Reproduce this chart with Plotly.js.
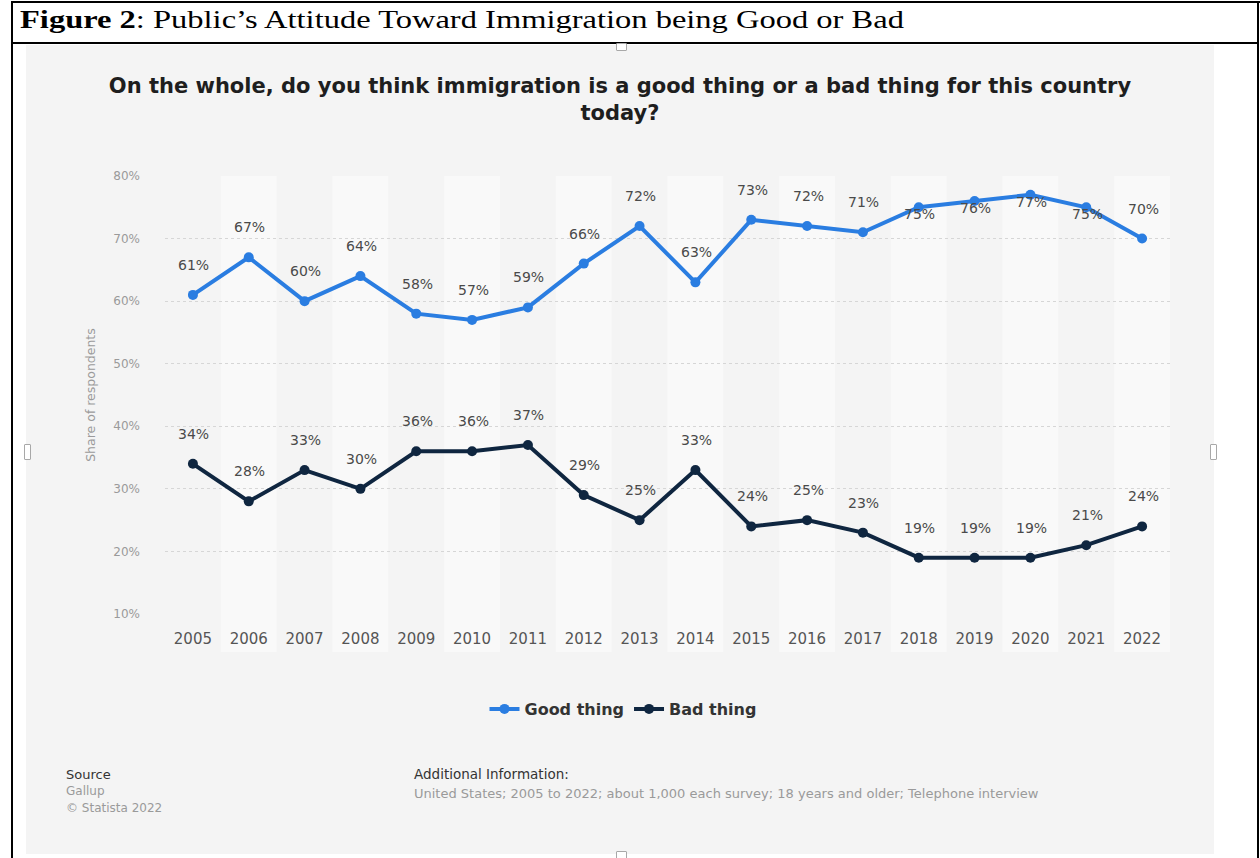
<!DOCTYPE html>
<html>
<head>
<meta charset="utf-8">
<script src="https://cdn.plot.ly/plotly-3.0.1.min.js"></script>
<style>
  html, body { margin:0; padding:0; background:#ffffff; width:1260px; height:858px; overflow:hidden; }
  .ln { position:absolute; background:#000; }
  #hdr { position:absolute; left:20px; top:5px; font-family:"Liberation Serif","Times New Roman",serif; font-size:26px; line-height:30px; color:#000; white-space:nowrap; transform:scaleX(1.25); transform-origin:0 0; }
  #box { position:absolute; left:26px; top:45px; width:1188px; height:809px; background:#f4f4f4; }
  #chart { position:absolute; left:26px; top:45px; width:1188px; height:809px; }
  .hd { position:absolute; background:#fff; border:1px solid #a8a8a8; border-radius:1px; }
</style>
</head>
<body>
<div class="ln" style="left:11px; top:1px; width:1249px; height:2px;"></div>
<div class="ln" style="left:11px; top:1px; width:2px; height:857px;"></div>
<div class="ln" style="left:1257px; top:1px; width:2px; height:857px;"></div>
<div class="ln" style="left:11px; top:42px; width:1248px; height:2px;"></div>
<div id="hdr"><b>Figure 2</b>: Public’s Attitude Toward Immigration being Good or Bad</div>
<div id="box"></div>
<div id="chart"></div>
<div class="hd" style="left:616px; top:43px; width:9px; height:6px;"></div>
<div class="hd" style="left:616px; top:851px; width:9px; height:7px;"></div>
<div class="hd" style="left:24px; top:444px; width:5px; height:14px;"></div>
<div class="hd" style="left:1210px; top:444px; width:5px; height:14px;"></div>
<script>
// ---- data ----
const years = ['2005','2006','2007','2008','2009','2010','2011','2012','2013','2014','2015','2016','2017','2018','2019','2020','2021','2022'];
const goodThing = [61,67,60,64,58,57,59,66,72,63,73,72,71,75,76,77,75,70];
const badThing  = [34,28,33,30,36,36,37,29,25,33,24,25,23,19,19,19,21,24];
const yTickValues = [10,20,30,40,50,60,70,80];
const yTickLabels = ['10%','20%','30%','40%','50%','60%','70%','80%'];
const seriesNames = ['Good thing','Bad thing'];
const chartTitle = 'On the whole, do you think immigration is a good thing or a bad thing for this country<br>today?';
const yAxisTitle = 'Share of respondents';
const sourceLines = ['Source', 'Gallup', '© Statista 2022'];
const infoLines = ['Additional Information:', 'United States; 2005 to 2022; about 1,000 each survey; 18 years and older; Telephone interview'];

// ---- style ----
const blue = '#2a7de1';
const navy = '#0f2640';
const sans = 'DejaVu Sans, Liberation Sans, Arial, sans-serif';

// plot area in page px: x 165..1170, y 176..613 ; div offset (26,45)
const W = 1188, H = 809;
const mL = 139, mR = 44, mT = 131, mB = 240;
const pw = W - mL - mR, ph = H - mT - mB;
const px = p => (p - 26 - mL) / pw;        // page x -> paper x
const py = p => (H - mB - (p - 45)) / ph;   // page y -> paper y

const traces = [
  { x: years, y: goodThing, name: seriesNames[0], type: 'scatter', mode: 'lines+markers',
    line: { color: blue, width: 4 }, marker: { color: blue, size: 10 }, hoverinfo: 'skip' },
  { x: years, y: badThing, name: seriesNames[1], type: 'scatter', mode: 'lines+markers',
    line: { color: navy, width: 4 }, marker: { color: navy, size: 10 }, hoverinfo: 'skip' }
];

const annotations = [];
const addLabels = (vals) => vals.forEach((v, i) => {
  annotations.push({ x: i, y: v, xref: 'x', yref: 'y', text: v + '%', showarrow: false,
    yshift: (v >= 75 ? -7 : 30), xshift: 1,
    font: { family: sans, size: 14, color: '#4a4a4a' } });
});
addLabels(goodThing);
addLabels(badThing);

const noteFont = (size, color) => ({ family: sans, size: size, color: color });
annotations.push({ xref: 'paper', yref: 'paper', x: px(64), y: py(774), xanchor: 'left', yanchor: 'middle', showarrow: false,
  text: sourceLines[0], font: noteFont(13, '#333') });
annotations.push({ xref: 'paper', yref: 'paper', x: px(64), y: py(791), xanchor: 'left', yanchor: 'middle', showarrow: false,
  text: sourceLines[1], font: noteFont(12, '#9a9a9a') });
annotations.push({ xref: 'paper', yref: 'paper', x: px(64), y: py(808), xanchor: 'left', yanchor: 'middle', showarrow: false,
  text: sourceLines[2], font: noteFont(12, '#9a9a9a') });
annotations.push({ xref: 'paper', yref: 'paper', x: px(412), y: py(774), xanchor: 'left', yanchor: 'middle', showarrow: false,
  text: infoLines[0], font: noteFont(13.5, '#333') });
annotations.push({ xref: 'paper', yref: 'paper', x: px(412), y: py(793), xanchor: 'left', yanchor: 'middle', showarrow: false,
  text: infoLines[1], font: noteFont(13, '#9a9a9a') });

const shapes = years.map((yr, i) => i % 2 === 1 ? ({
  type: 'rect', xref: 'x', yref: 'paper', x0: i - 0.5, x1: i + 0.5, y0: py(652), y1: 1,
  fillcolor: '#f9f9f9', line: { width: 0 }, layer: 'below'
}) : null).filter(Boolean);

const layout = {
  width: W, height: H,
  margin: { l: mL, r: mR, t: mT, b: mB, autoexpand: false },
  paper_bgcolor: 'rgba(0,0,0,0)', plot_bgcolor: '#f4f4f4',
  title: { text: '<b>' + chartTitle + '</b>', xref: 'container', x: 0.5, xanchor: 'center',
    yref: 'container', y: 1 - 48 / H, yanchor: 'middle',
    font: { family: sans, size: 21, color: '#1e1e1e' } },
  xaxis: { type: 'category', range: [-0.5, years.length - 0.5], showgrid: false, zeroline: false, showline: false,
    ticks: '', ticklabelstandoff: 14, tickfont: { family: sans, size: 15, color: '#555' }, fixedrange: true },
  yaxis: { range: [10, 80], tickvals: yTickValues, ticktext: yTickLabels, showgrid: true, gridcolor: '#d6d6d6', griddash: 'dot',
    gridwidth: 1, zeroline: false, showline: false, ticks: '', ticklabelstandoff: 24,
    tickfont: { family: sans, size: 12, color: '#9a9a9a' },
    title: { text: yAxisTitle, standoff: 14, font: { family: sans, size: 12.5, color: '#9a9a9a' } }, fixedrange: true },
  showlegend: true,
  legend: { orientation: 'h', x: px(623), xanchor: 'center', y: py(709), yanchor: 'middle',
    font: { family: sans, size: 16, color: '#333', weight: 'bold' }, bgcolor: 'rgba(0,0,0,0)', itemwidth: 30 },
  shapes: shapes,
  annotations: annotations,
  hovermode: false
};

Plotly.newPlot('chart', traces, layout, { displayModeBar: false, staticPlot: true });
</script>
</body>
</html>
